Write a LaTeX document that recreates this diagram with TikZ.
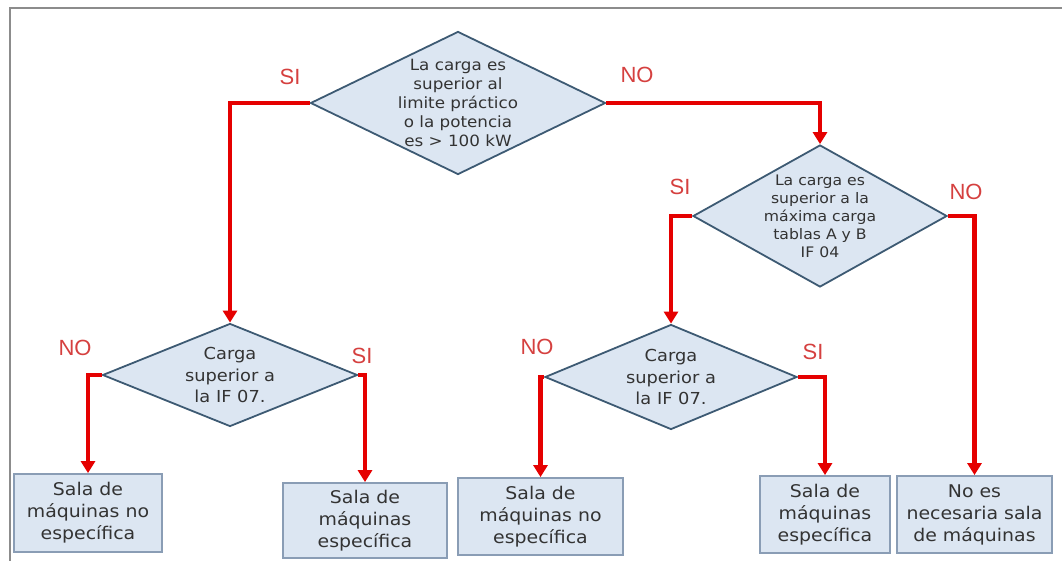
\documentclass[tikz,border=0pt]{standalone}
\usepackage{fontspec}
\setmainfont[FakeStretch=1.08]{DejaVu Sans}
\newfontfamily\labelfont{Liberation Sans}
\usetikzlibrary{shapes.geometric, arrows.meta, positioning}

\definecolor{boxfill}{HTML}{DCE6F2}
\definecolor{diamline}{HTML}{3D5A73}
\definecolor{boxline}{HTML}{8A9DB5}
\definecolor{flowred}{HTML}{E50000}
\definecolor{anstext}{HTML}{D5403F}
\definecolor{txtgray}{HTML}{333333}
\definecolor{framegray}{HTML}{8C8C8C}

\begin{document}
\begin{tikzpicture}[
    x=1pt, y=-1pt,
    diam/.style={diamond, draw=diamline, line width=1.8pt, fill=boxfill, inner sep=0pt},
    dtext/.style={align=center, text=txtgray, inner sep=0pt},
    result/.style={rectangle, draw=boxline, line width=1.8pt, fill=boxfill, align=center,
        text=txtgray, inner sep=0pt, font=\fontsize{17.5}{22}\selectfont},
    flow/.style={draw=flowred, line width=4.5pt, -{Triangle[width=14pt, length=12pt]}},
    answer/.style={text=anstext, font=\labelfont\fontsize{22}{24}\selectfont}
]
    \useasboundingbox (0,0) rectangle (1062,561);

    % frame of the screenshot
    \draw[framegray, line width=2pt] (10,561) -- (10,8) -- (1062,8);

    % decisions
    \node[diam, minimum width=295pt, minimum height=143pt] (d1) at (458,103) {};
    \node[dtext, font=\fontsize{15.5}{19.2}\selectfont] (d1t) at (d1) {La carga es\\superior al\\limite práctico\\o la potencia\\es > 100 kW};

    \node[diam, minimum width=254pt, minimum height=142pt] (d3) at (820,216) {};
    \node[dtext, font=\fontsize{14.5}{18}\selectfont] (d3t) at (d3) {La carga es\\superior a la\\máxima carga\\tablas A y B\\IF 04};

    \node[diam, minimum width=255pt, minimum height=103pt] (d2) at (230,375) {};
    \node[dtext, font=\fontsize{16.5}{21.5}\selectfont] (d2t) at (d2) {Carga\\superior a\\la IF 07.};

    \node[diam, minimum width=252pt, minimum height=105pt] (d4) at (671,377) {};
    \node[dtext, font=\fontsize{16.5}{21.5}\selectfont] (d4t) at (d4) {Carga\\superior a\\la IF 07.};

    % results
    \node[result, minimum width=148pt, minimum height=78pt] (b1) at (88,513) {Sala de\\máquinas no\\específica};
    \node[result, minimum width=164pt, minimum height=75pt] (b2) at (365,520.5) {Sala de\\máquinas\\específica};
    \node[result, minimum width=165pt, minimum height=77pt] (b3) at (540.5,516.5) {Sala de\\máquinas no\\específica};
    \node[result, minimum width=130pt, minimum height=77pt] (b4) at (825,514.5) {Sala de\\máquinas\\específica};
    \node[result, minimum width=155pt, minimum height=77pt] (b5) at (974.5,514.5) {No es\\necesaria sala\\de máquinas};

    % connectors
    \draw[flow] (d1.west) -| (d2.north);
    \draw[flow] (d1.east) -| (d3.north);
    \draw[flow] (d3.west) -| (d4.north);
    \draw[flow] (d3.east) -| (b5.north);
    \draw[flow] (d2.west) -| (b1.north);
    \draw[flow] (d2.east) -| (b2.north);
    \draw[flow] (d4.west) -| (b3.north);
    \draw[flow] (d4.east) -| (b4.north);

    % answers
    \node[answer] (a1) at (290,77) {SI};
    \node[answer] (a2) at (637,75) {NO};
    \node[answer] (a3) at (680,187) {SI};
    \node[answer] (a4) at (966,192) {NO};
    \node[answer] (a5) at (75,348) {NO};
    \node[answer] (a6) at (362,356) {SI};
    \node[answer] (a7) at (537,347) {NO};
    \node[answer] (a8) at (813,352) {SI};
\end{tikzpicture}
\end{document}
